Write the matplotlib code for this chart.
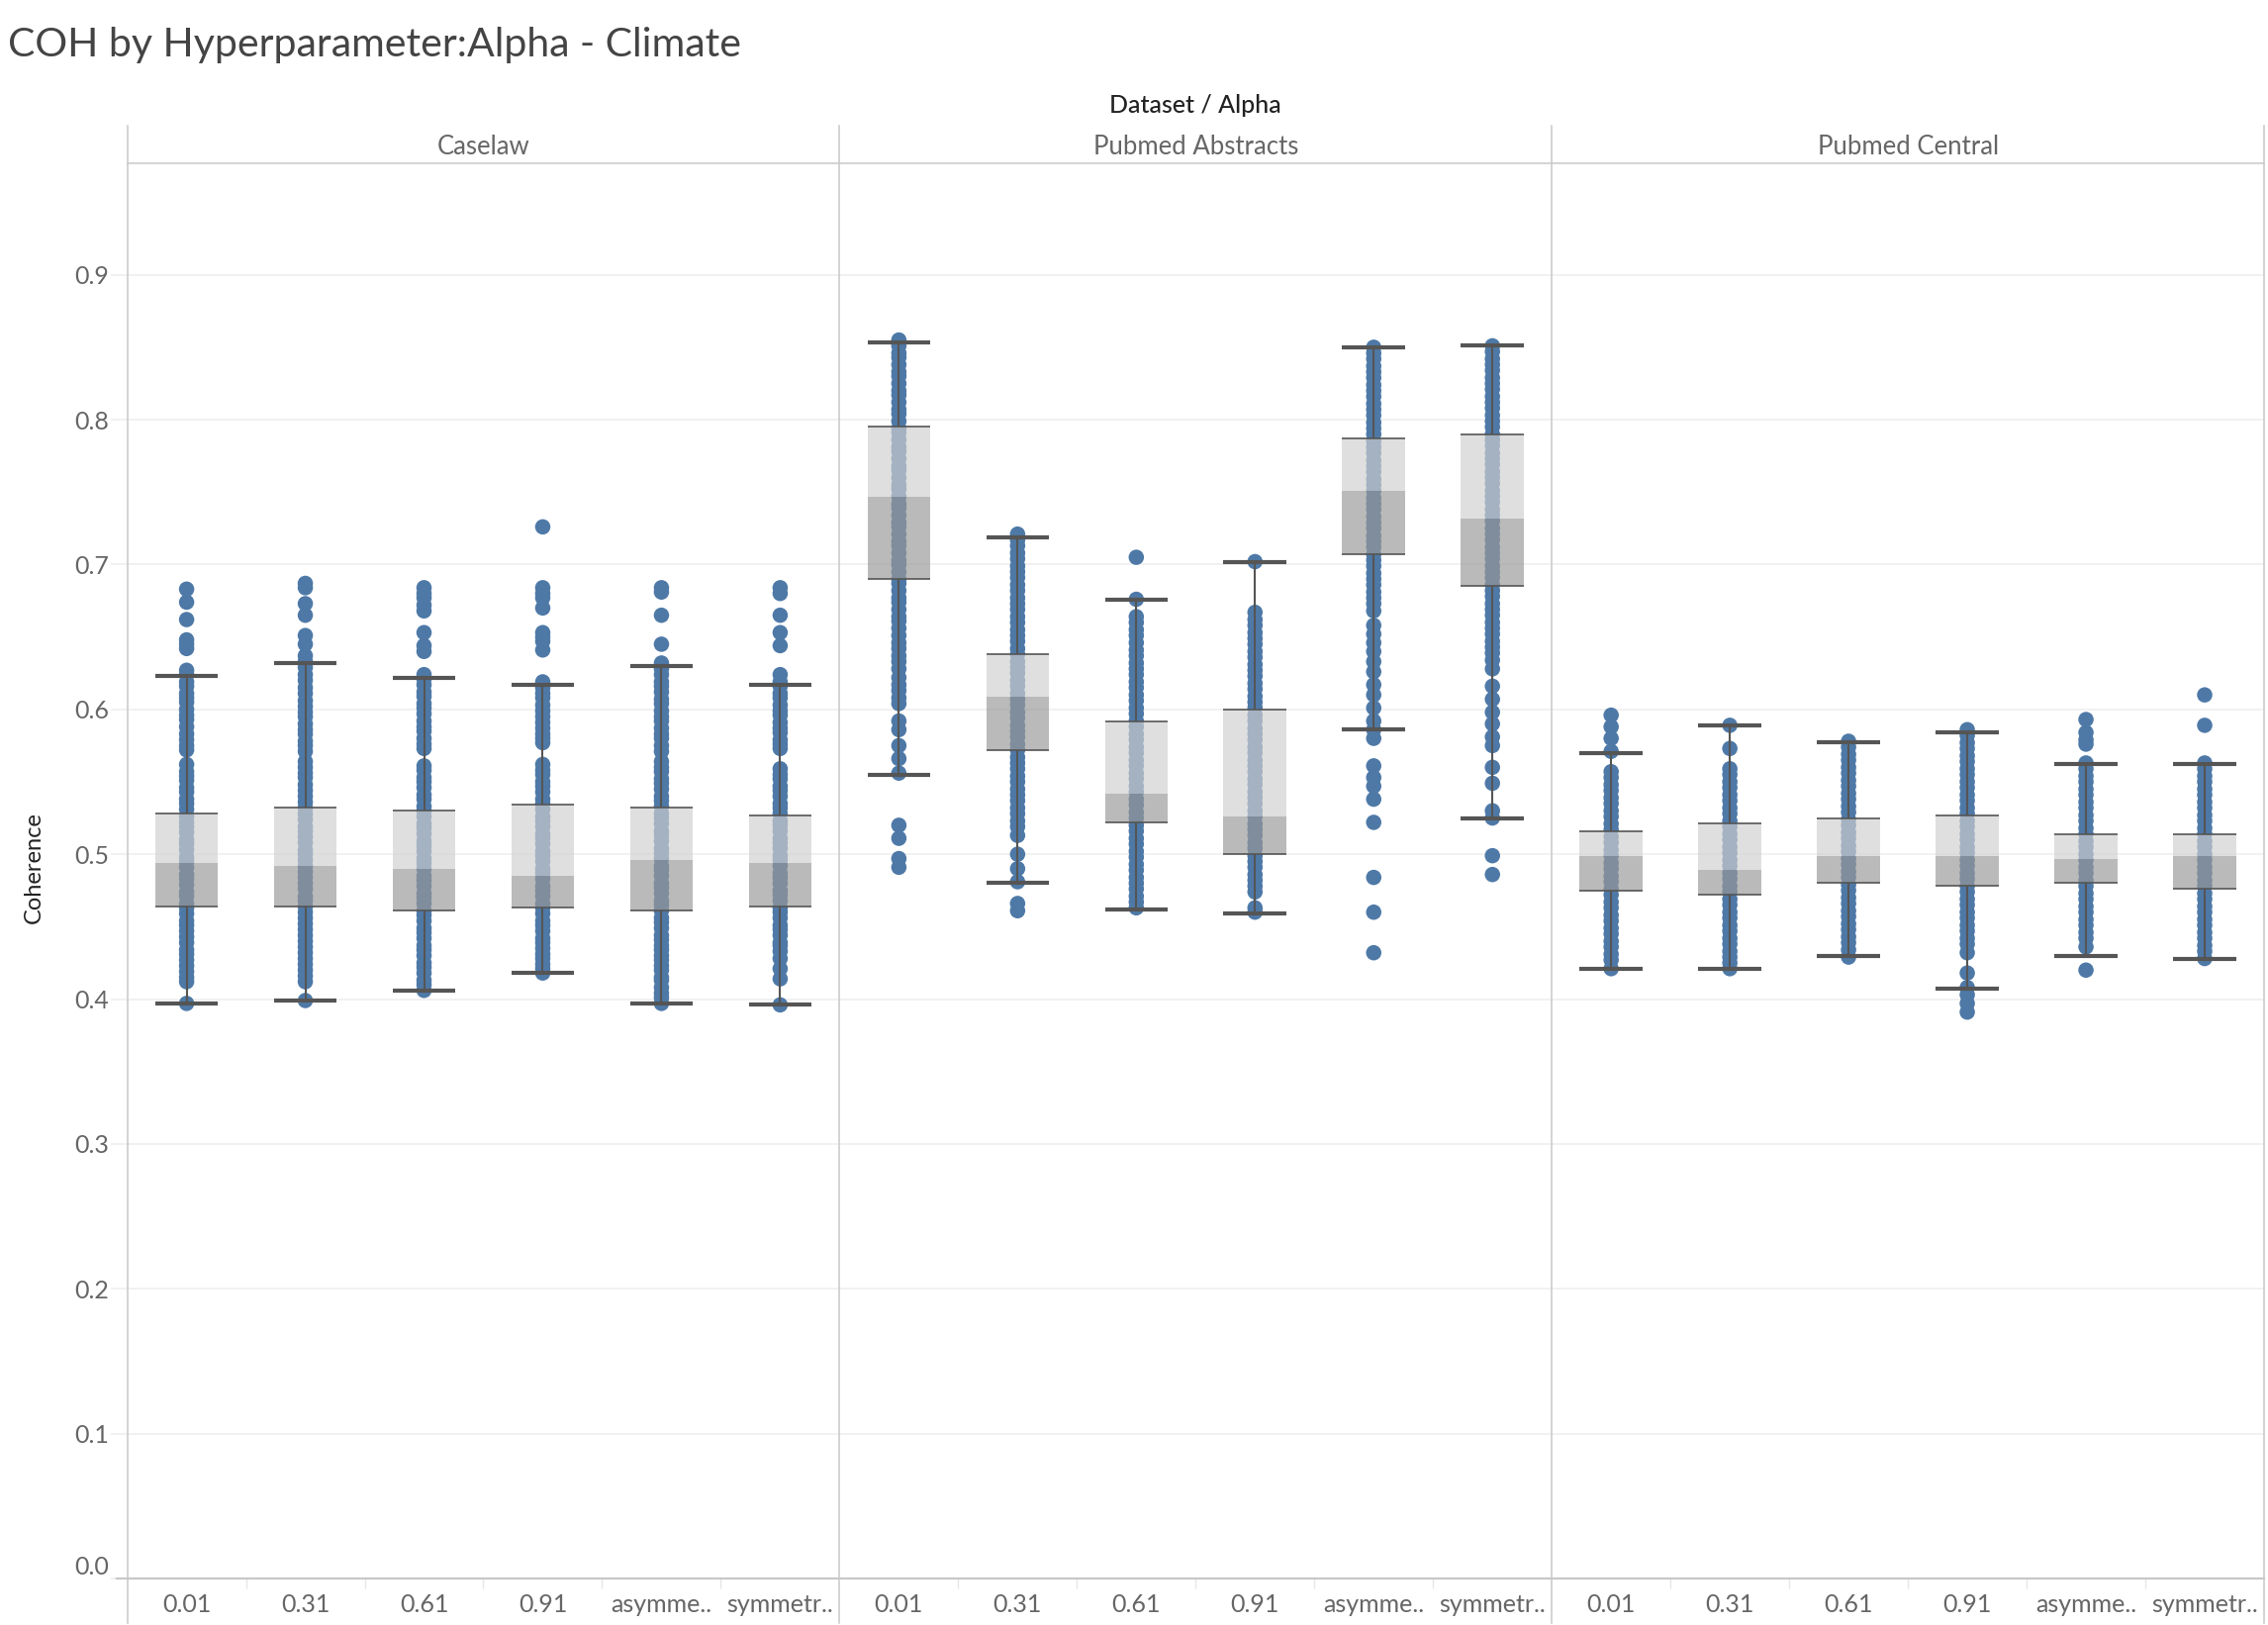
import matplotlib.pyplot as plt
from matplotlib.lines import Line2D

plt.rcParams['font.family'] = ['Lato', 'DejaVu Sans']

# ---- data ----
datasets = ['Caselaw', 'Pubmed Abstracts', 'Pubmed Central']
alpha_labels = ['0.01', '0.31', '0.61', '0.91', 'asymme..', 'symmetr..']
y_ticks = [0.0, 0.1, 0.2, 0.3, 0.4, 0.5, 0.6, 0.7, 0.8, 0.9]
y_tick_labels = ['0.0', '0.1', '0.2', '0.3', '0.4', '0.5', '0.6', '0.7', '0.8', '0.9']

# Caselaw coherence values per alpha
caselaw_001 = [0.683, 0.674, 0.662, 0.648, 0.645, 0.642, 0.627, 0.624, 0.619, 0.616, 0.611, 0.608, 0.605,
               0.600, 0.596, 0.593, 0.588, 0.583, 0.579, 0.575, 0.572, 0.562, 0.557, 0.554, 0.551, 0.546,
               0.543, 0.538, 0.535, 0.531, 0.526, 0.522, 0.519, 0.515, 0.510, 0.507, 0.503, 0.498, 0.495,
               0.491, 0.486, 0.483, 0.479, 0.474, 0.471, 0.466, 0.463, 0.459, 0.454, 0.451, 0.447, 0.443,
               0.439, 0.434, 0.431, 0.427, 0.423, 0.419, 0.415, 0.412, 0.397]
caselaw_031 = [0.687, 0.684, 0.673, 0.665, 0.651, 0.645, 0.637, 0.633, 0.629, 0.624, 0.620, 0.615, 0.611,
               0.606, 0.602, 0.598, 0.595, 0.590, 0.586, 0.583, 0.578, 0.575, 0.571, 0.564, 0.560, 0.556,
               0.553, 0.548, 0.544, 0.540, 0.536, 0.532, 0.528, 0.524, 0.519, 0.516, 0.512, 0.508, 0.503,
               0.500, 0.496, 0.492, 0.488, 0.484, 0.480, 0.476, 0.471, 0.468, 0.464, 0.460, 0.456, 0.452,
               0.448, 0.444, 0.440, 0.436, 0.432, 0.428, 0.424, 0.420, 0.416, 0.412, 0.399]
caselaw_061 = [0.684, 0.680, 0.677, 0.672, 0.668, 0.653, 0.644, 0.640, 0.624, 0.621, 0.617, 0.612, 0.609,
               0.604, 0.601, 0.597, 0.592, 0.588, 0.585, 0.580, 0.576, 0.573, 0.561, 0.558, 0.553, 0.550,
               0.546, 0.541, 0.538, 0.533, 0.530, 0.526, 0.521, 0.518, 0.514, 0.509, 0.506, 0.502, 0.497,
               0.494, 0.490, 0.485, 0.482, 0.478, 0.473, 0.470, 0.466, 0.461, 0.458, 0.454, 0.449, 0.446,
               0.442, 0.437, 0.434, 0.430, 0.425, 0.422, 0.418, 0.413, 0.410, 0.406]
caselaw_091 = [0.726, 0.684, 0.680, 0.677, 0.670, 0.653, 0.650, 0.647, 0.641, 0.619, 0.615, 0.611, 0.608,
               0.603, 0.599, 0.595, 0.591, 0.587, 0.583, 0.580, 0.577, 0.562, 0.558, 0.555, 0.550, 0.547,
               0.543, 0.538, 0.535, 0.531, 0.526, 0.523, 0.519, 0.514, 0.511, 0.507, 0.502, 0.499, 0.495,
               0.490, 0.487, 0.483, 0.478, 0.475, 0.471, 0.466, 0.463, 0.459, 0.454, 0.451, 0.447, 0.442,
               0.439, 0.435, 0.431, 0.428, 0.424, 0.421, 0.418]
caselaw_asym = [0.684, 0.681, 0.665, 0.645, 0.632, 0.628, 0.624, 0.619, 0.616, 0.612, 0.607, 0.604, 0.599,
                0.595, 0.592, 0.587, 0.583, 0.580, 0.575, 0.571, 0.564, 0.560, 0.557, 0.552, 0.549, 0.545,
                0.540, 0.537, 0.533, 0.528, 0.525, 0.521, 0.516, 0.513, 0.509, 0.504, 0.501, 0.497, 0.492,
                0.489, 0.485, 0.480, 0.477, 0.473, 0.468, 0.465, 0.461, 0.456, 0.453, 0.449, 0.444, 0.441,
                0.437, 0.434, 0.430, 0.427, 0.423, 0.420, 0.415, 0.413, 0.408, 0.404, 0.401, 0.397]
caselaw_sym = [0.684, 0.680, 0.665, 0.653, 0.644, 0.624, 0.619, 0.616, 0.611, 0.608, 0.603, 0.599, 0.596,
               0.591, 0.587, 0.584, 0.579, 0.576, 0.573, 0.559, 0.555, 0.552, 0.547, 0.544, 0.540, 0.535,
               0.532, 0.528, 0.523, 0.520, 0.516, 0.511, 0.508, 0.504, 0.499, 0.496, 0.492, 0.487, 0.484,
               0.480, 0.475, 0.472, 0.468, 0.463, 0.460, 0.456, 0.451, 0.448, 0.444, 0.439, 0.437, 0.433,
               0.428, 0.421, 0.414, 0.396]

# Pubmed Abstracts coherence values per alpha
abstracts_001 = [0.855, 0.851, 0.846, 0.843, 0.838, 0.833, 0.830, 0.825, 0.820, 0.817, 0.812, 0.807, 0.804,
                 0.799, 0.794, 0.791, 0.786, 0.781, 0.778, 0.773, 0.768, 0.765, 0.760, 0.755, 0.752, 0.747,
                 0.742, 0.739, 0.734, 0.729, 0.726, 0.721, 0.716, 0.713, 0.708, 0.703, 0.700, 0.695, 0.690,
                 0.687, 0.682, 0.677, 0.674, 0.669, 0.664, 0.661, 0.656, 0.651, 0.646, 0.642, 0.637, 0.633,
                 0.628, 0.622, 0.617, 0.613, 0.608, 0.604, 0.592, 0.586, 0.575, 0.566, 0.556, 0.520, 0.511,
                 0.497, 0.491]
abstracts_031 = [0.721, 0.717, 0.713, 0.708, 0.704, 0.699, 0.695, 0.691, 0.686, 0.682, 0.677, 0.673, 0.669,
                 0.664, 0.660, 0.655, 0.651, 0.647, 0.642, 0.638, 0.633, 0.629, 0.625, 0.620, 0.616, 0.611,
                 0.607, 0.603, 0.598, 0.594, 0.589, 0.585, 0.581, 0.576, 0.572, 0.567, 0.563, 0.559, 0.554,
                 0.550, 0.545, 0.541, 0.537, 0.532, 0.528, 0.523, 0.519, 0.513, 0.500, 0.490, 0.481, 0.466,
                 0.461]
abstracts_061 = [0.705, 0.676, 0.664, 0.660, 0.655, 0.651, 0.646, 0.641, 0.637, 0.632, 0.628, 0.624, 0.619,
                 0.615, 0.610, 0.606, 0.601, 0.597, 0.592, 0.588, 0.583, 0.579, 0.574, 0.570, 0.565, 0.561,
                 0.556, 0.552, 0.547, 0.543, 0.538, 0.534, 0.529, 0.525, 0.520, 0.516, 0.511, 0.507, 0.502,
                 0.498, 0.493, 0.489, 0.484, 0.480, 0.476, 0.471, 0.467, 0.463]
abstracts_091 = [0.702, 0.667, 0.662, 0.658, 0.653, 0.649, 0.645, 0.640, 0.636, 0.631, 0.627, 0.623, 0.618,
                 0.614, 0.609, 0.605, 0.601, 0.596, 0.592, 0.587, 0.583, 0.579, 0.574, 0.570, 0.565, 0.561,
                 0.557, 0.552, 0.548, 0.543, 0.539, 0.535, 0.530, 0.526, 0.521, 0.517, 0.513, 0.508, 0.504,
                 0.499, 0.495, 0.491, 0.486, 0.482, 0.478, 0.474, 0.463, 0.460]
abstracts_asym = [0.850, 0.846, 0.842, 0.837, 0.833, 0.829, 0.824, 0.820, 0.816, 0.811, 0.807, 0.803, 0.798,
                  0.794, 0.790, 0.785, 0.781, 0.777, 0.772, 0.768, 0.764, 0.759, 0.755, 0.751, 0.746, 0.742,
                  0.738, 0.733, 0.729, 0.725, 0.720, 0.716, 0.712, 0.707, 0.703, 0.699, 0.694, 0.690, 0.686,
                  0.681, 0.677, 0.673, 0.668, 0.658, 0.652, 0.646, 0.640, 0.633, 0.626, 0.617, 0.610, 0.601,
                  0.592, 0.586, 0.580, 0.561, 0.553, 0.547, 0.538, 0.522, 0.484, 0.460, 0.432]
abstracts_sym = [0.851, 0.847, 0.842, 0.838, 0.834, 0.829, 0.825, 0.821, 0.816, 0.812, 0.808, 0.803, 0.799,
                 0.795, 0.790, 0.786, 0.782, 0.777, 0.773, 0.769, 0.764, 0.760, 0.756, 0.751, 0.747, 0.743,
                 0.738, 0.734, 0.730, 0.725, 0.721, 0.717, 0.712, 0.708, 0.704, 0.699, 0.695, 0.691, 0.686,
                 0.682, 0.678, 0.673, 0.669, 0.665, 0.660, 0.656, 0.652, 0.647, 0.643, 0.639, 0.634, 0.628,
                 0.616, 0.607, 0.598, 0.590, 0.581, 0.575, 0.560, 0.549, 0.530, 0.525, 0.499, 0.486]

# Pubmed Central coherence values per alpha
central_001 = [0.596, 0.588, 0.580, 0.571, 0.557, 0.553, 0.548, 0.544, 0.539, 0.535, 0.530, 0.526, 0.521,
               0.517, 0.512, 0.508, 0.503, 0.499, 0.494, 0.490, 0.485, 0.481, 0.476, 0.472, 0.467, 0.463,
               0.458, 0.454, 0.449, 0.445, 0.440, 0.436, 0.431, 0.427, 0.421]
central_031 = [0.589, 0.573, 0.559, 0.555, 0.550, 0.546, 0.541, 0.537, 0.532, 0.528, 0.523, 0.519, 0.514,
               0.510, 0.505, 0.501, 0.496, 0.492, 0.487, 0.483, 0.478, 0.474, 0.469, 0.465, 0.460, 0.456,
               0.451, 0.447, 0.442, 0.438, 0.433, 0.429, 0.425, 0.421]
central_061 = [0.578, 0.574, 0.569, 0.565, 0.560, 0.556, 0.551, 0.547, 0.542, 0.538, 0.533, 0.529, 0.524,
               0.520, 0.515, 0.511, 0.506, 0.502, 0.497, 0.493, 0.488, 0.484, 0.479, 0.475, 0.470, 0.466,
               0.461, 0.457, 0.452, 0.448, 0.443, 0.439, 0.434, 0.429]
central_091 = [0.586, 0.582, 0.577, 0.573, 0.568, 0.564, 0.559, 0.555, 0.550, 0.546, 0.541, 0.537, 0.532,
               0.528, 0.523, 0.519, 0.514, 0.510, 0.505, 0.501, 0.496, 0.492, 0.487, 0.483, 0.478, 0.474,
               0.469, 0.465, 0.460, 0.456, 0.451, 0.447, 0.442, 0.438, 0.432, 0.418, 0.408, 0.403, 0.397,
               0.391]
central_asym = [0.593, 0.584, 0.579, 0.576, 0.563, 0.559, 0.554, 0.550, 0.545, 0.541, 0.536, 0.532, 0.527,
                0.523, 0.518, 0.514, 0.509, 0.505, 0.500, 0.496, 0.491, 0.487, 0.482, 0.478, 0.473, 0.469,
                0.464, 0.460, 0.455, 0.451, 0.446, 0.442, 0.436, 0.420]
central_sym = [0.610, 0.589, 0.563, 0.559, 0.554, 0.550, 0.545, 0.541, 0.536, 0.532, 0.527, 0.523, 0.518,
               0.514, 0.509, 0.505, 0.500, 0.496, 0.491, 0.487, 0.482, 0.478, 0.473, 0.469, 0.464, 0.460,
               0.455, 0.451, 0.446, 0.442, 0.437, 0.433, 0.428]

dots = [
    [caselaw_001, caselaw_031, caselaw_061, caselaw_091, caselaw_asym, caselaw_sym],
    [abstracts_001, abstracts_031, abstracts_061, abstracts_091, abstracts_asym, abstracts_sym],
    [central_001, central_031, central_061, central_091, central_asym, central_sym],
]

# box plot statistics
q1 = [[0.464, 0.464, 0.461, 0.463, 0.461, 0.464],
      [0.690, 0.572, 0.522, 0.500, 0.707, 0.685],
      [0.475, 0.472, 0.480, 0.478, 0.480, 0.476]]
median = [[0.494, 0.492, 0.490, 0.485, 0.496, 0.494],
          [0.747, 0.609, 0.542, 0.526, 0.751, 0.732],
          [0.499, 0.489, 0.499, 0.499, 0.497, 0.499]]
q3 = [[0.528, 0.532, 0.530, 0.534, 0.532, 0.527],
      [0.795, 0.638, 0.592, 0.600, 0.787, 0.790],
      [0.516, 0.521, 0.525, 0.527, 0.514, 0.514]]
whisk_lo = [[0.397, 0.399, 0.406, 0.418, 0.397, 0.396],
            [0.555, 0.480, 0.462, 0.459, 0.586, 0.525],
            [0.421, 0.421, 0.430, 0.407, 0.430, 0.428]]
whisk_hi = [[0.623, 0.632, 0.622, 0.617, 0.630, 0.617],
            [0.853, 0.719, 0.676, 0.702, 0.850, 0.851],
            [0.570, 0.589, 0.577, 0.584, 0.562, 0.562]]

# ---- layout (pixels) ----
W, H = 2292, 1642
left, right, top, bottom = 128.6, 2288, 165, 1595
pw = (right - left) / 3
border = '#c8c8c8'
dark = '#555555'
half = 0.265

fig = plt.figure(figsize=(W / 100, H / 100), dpi=100)

for i, name in enumerate(datasets):
    ax = fig.add_axes([(left + i * pw) / W, 1 - bottom / H, pw / W, (bottom - top) / H])
    ax.set_xlim(-0.5, 5.5)
    ax.set_ylim(0, 0.977)
    for s in ax.spines.values():
        s.set_visible(False)
    ax.set_yticks(y_ticks)
    ax.grid(axis='y', color='#f0f0f0', lw=1.3, zorder=0)
    ax.set_axisbelow(True)
    if i == 0:
        ax.set_yticklabels(y_tick_labels, fontsize=18, color='#666666')
        ax.tick_params(axis='y', length=12, width=1.3, color='#f0f0f0', pad=1)
        ax.get_yticklabels()[0].set_verticalalignment('bottom')
    else:
        ax.tick_params(axis='y', length=0, labelleft=False)

    xs = list(range(len(alpha_labels)))
    ax.set_xticks(xs)
    ax.set_xticklabels(alpha_labels, fontsize=18, color='#666666')
    ax.tick_params(axis='x', length=0, pad=11)
    ax.set_xticks([x + 0.5 for x in xs[:-1]], minor=True)
    ax.tick_params(axis='x', which='minor', length=7, width=1, color='#e6e6e6')

    for j in xs:
        vals = dots[i][j]
        ax.scatter([j] * len(vals), vals, s=125, color='#4e79a7', edgecolors='none', zorder=2)
        ax.bar(j, q3[i][j] - median[i][j], bottom=median[i][j], width=2 * half,
               color='#d0d0d0', alpha=0.667, zorder=3)
        ax.bar(j, median[i][j] - q1[i][j], bottom=q1[i][j], width=2 * half,
               color='#989898', alpha=0.67, zorder=3)
        ax.hlines([q1[i][j], q3[i][j]], j - half, j + half, color=dark, lw=1.2, zorder=4)
        ax.vlines(j, q3[i][j], whisk_hi[i][j], color=dark, lw=1.5, zorder=4)
        ax.vlines(j, whisk_lo[i][j], q1[i][j], color=dark, lw=1.5, zorder=4)
        ax.hlines([whisk_lo[i][j], whisk_hi[i][j]], j - half, j + half, color=dark, lw=3, zorder=4)

    fig.text((left + (i + 0.5) * pw) / W, 1 - 148 / H, name, ha='center', va='center',
             fontsize=18.5, color='#666666')

# frame lines: panel borders, header rule, x axis
for i in range(4):
    x = (left + i * pw) / W
    fig.add_artist(Line2D([x, x], [1 - 127 / H, 1 - 1640 / H], color=border, lw=1.1))
fig.add_artist(Line2D([left / W, right / W], [1 - top / H, 1 - top / H], color=border, lw=1.1))
fig.add_artist(Line2D([118 / W, right / W], [1 - bottom / H, 1 - bottom / H], color=border, lw=1.6))

fig.text(8 / W, 1 - 57 / H, 'COH by Hyperparameter:Alpha - Climate', ha='left', va='baseline',
         fontsize=29.5, color='#444444')
fig.text((left + right) / 2 / W, 1 - 107 / H, 'Dataset / Alpha', ha='center', va='center',
         fontsize=18, color='#222222', fontweight='medium')
fig.text(34 / W, 1 - 877 / H, 'Coherence', ha='center', va='center', rotation=90,
         fontsize=17, color='#222222')

fig.savefig('out.png', dpi=100)
